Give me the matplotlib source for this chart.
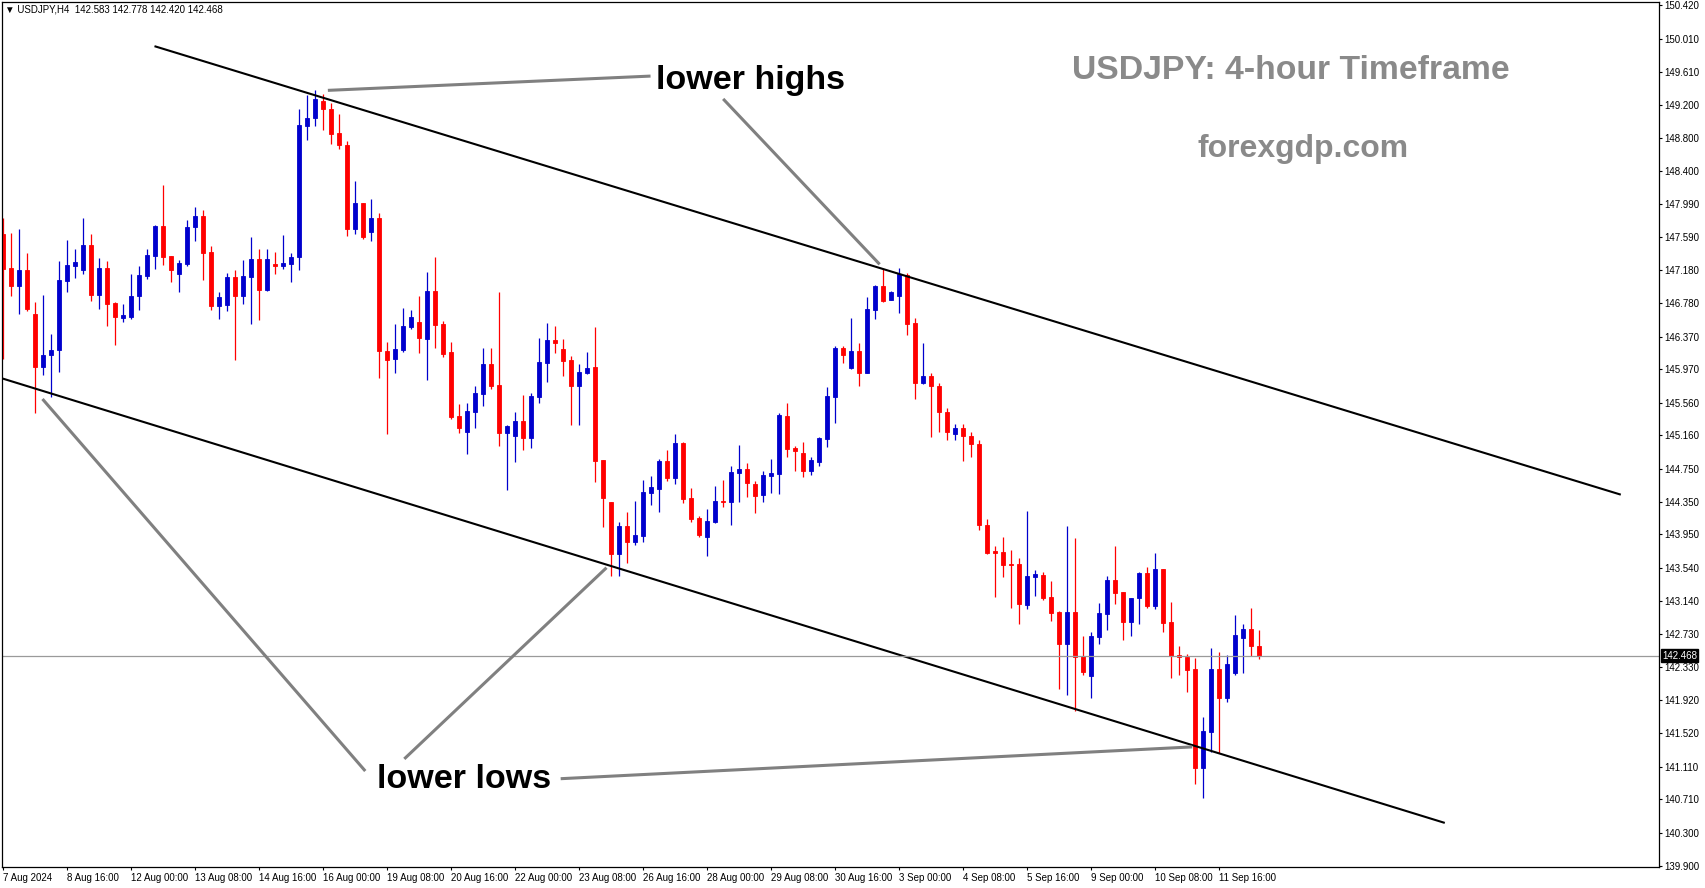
import matplotlib
matplotlib.use("Agg")
import matplotlib.pyplot as plt

# USDJPY H4 candles, 7 Aug 2024 08:00 .. 12 Sep 2024 12:00
opens = [147.62, 147.21, 146.99, 147.18, 146.65, 146.00, 146.14, 146.20, 147.05, 147.23,
         147.18, 147.49, 146.88, 147.21, 146.78, 146.60, 146.61, 146.86, 147.11, 147.36,
         147.72, 147.36, 147.14, 147.26, 147.71, 147.84, 147.40, 146.74, 146.75, 147.10,
         146.86, 147.10, 147.32, 146.94, 147.26, 147.23, 147.26, 147.34, 148.95, 149.04,
         149.25, 149.15, 148.86, 148.71, 147.68, 148.00, 147.65, 147.82, 146.19, 146.09,
         146.21, 146.49, 146.55, 146.34, 146.93, 146.52, 146.18, 145.40, 145.20, 145.45,
         145.67, 146.04, 145.78, 145.19, 145.15, 145.34, 145.13, 145.63, 146.05, 146.33,
         146.22, 146.08, 145.77, 145.93, 146.00, 144.86, 144.35, 143.71, 144.05, 143.86,
         143.93, 144.46, 144.51, 144.85, 144.64, 145.07, 144.40, 144.15, 143.92, 144.10,
         144.36, 144.35, 144.70, 144.75, 144.57, 144.43, 144.67, 144.69, 145.40, 145.01,
         144.95, 144.73, 144.84, 145.12, 145.63, 146.23, 145.99, 146.19, 145.92, 146.70,
         146.99, 146.82, 146.87, 147.12, 146.54, 145.80, 145.89, 145.77, 145.45, 145.18,
         145.25, 145.15, 145.05, 144.06, 143.75, 143.73, 143.59, 143.59, 143.09, 143.43,
         143.45, 143.18, 143.00, 142.61, 143.00, 142.46, 142.22, 142.69, 142.98, 143.39,
         143.25, 142.88, 143.17, 143.48, 143.07, 143.53, 142.88, 142.48, 142.45, 142.30,
         141.09, 141.53, 142.30, 141.95, 142.26, 142.68, 142.79, 142.583]
highs = [147.82, 147.64, 147.69, 147.39, 146.79, 146.88, 146.40, 147.29, 147.55, 147.44,
         147.82, 147.62, 147.33, 147.29, 146.79, 146.77, 147.14, 147.23, 147.44, 147.73,
         148.22, 147.36, 147.31, 147.80, 147.95, 147.92, 147.48, 146.92, 147.15, 147.18,
         147.31, 147.59, 147.44, 147.44, 147.40, 147.61, 147.39, 149.15, 149.33, 149.39,
         149.34, 149.23, 149.09, 148.76, 148.27, 148.00, 148.05, 147.88, 146.30, 146.52,
         146.72, 146.70, 146.87, 147.16, 147.34, 146.56, 146.30, 145.55, 145.56, 145.77,
         146.23, 146.23, 146.92, 145.29, 145.45, 145.65, 145.68, 146.35, 146.54, 146.50,
         146.34, 146.13, 146.03, 146.18, 146.49, 144.86, 144.35, 144.10, 144.22, 144.36,
         144.62, 144.66, 144.87, 144.98, 145.18, 145.08, 144.52, 144.17, 144.26, 144.54,
         144.62, 144.79, 145.04, 144.82, 144.60, 144.73, 144.87, 145.44, 145.56, 145.03,
         145.08, 144.90, 145.14, 145.75, 146.25, 146.25, 146.60, 146.29, 146.85, 147.00,
         147.20, 146.93, 147.21, 147.15, 146.60, 146.29, 145.93, 145.80, 145.50, 145.30,
         145.30, 145.20, 145.10, 144.14, 143.81, 143.92, 143.76, 143.66, 144.24, 143.52,
         143.49, 143.38, 143.01, 144.05, 143.91, 142.71, 142.76, 143.11, 143.44, 143.81,
         143.25, 143.17, 143.49, 143.55, 143.72, 143.53, 143.12, 142.59, 142.49, 142.44,
         141.72, 142.56, 142.51, 142.47, 142.96, 142.85, 143.05, 142.778]
lows = [146.09, 146.86, 146.65, 146.68, 145.43, 145.90, 145.63, 145.94, 146.91, 147.09,
        147.14, 146.81, 146.71, 146.50, 146.27, 146.55, 146.59, 146.70, 147.07, 147.20,
        147.25, 147.04, 146.91, 147.23, 147.54, 147.06, 146.70, 146.59, 146.68, 146.08,
        146.77, 146.52, 146.57, 146.93, 147.14, 147.20, 147.04, 147.18, 148.78, 148.95,
        148.90, 148.73, 148.66, 147.60, 147.62, 147.56, 147.54, 145.86, 145.18, 145.93,
        146.18, 146.46, 146.17, 145.84, 146.23, 146.12, 145.36, 145.19, 144.93, 145.25,
        145.52, 145.73, 145.03, 144.49, 144.84, 144.98, 145.01, 145.56, 145.81, 146.17,
        145.89, 145.29, 145.29, 145.91, 144.59, 144.04, 143.44, 143.44, 143.60, 143.82,
        143.86, 144.31, 144.22, 144.60, 144.57, 144.33, 144.10, 143.92, 143.69, 144.09,
        144.29, 144.07, 144.35, 144.41, 144.21, 144.35, 144.46, 144.44, 144.90, 144.73,
        144.65, 144.68, 144.79, 145.02, 145.31, 146.05, 145.97, 145.77, 145.92, 146.59,
        146.79, 146.82, 146.66, 146.39, 145.61, 145.79, 145.14, 145.20, 145.10, 145.10,
        144.85, 144.90, 144.01, 143.71, 143.19, 143.43, 143.05, 142.85, 143.04, 143.20,
        143.15, 142.89, 142.06, 141.99, 141.79, 142.23, 141.95, 142.61, 142.78, 143.10,
        142.66, 142.71, 142.85, 143.05, 143.04, 142.76, 142.19, 142.23, 142.02, 140.90,
        140.72, 141.29, 141.28, 141.90, 142.23, 142.26, 142.46, 142.420]
closes = [147.20, 146.99, 147.18, 146.71, 146.00, 146.15, 146.21, 147.06, 147.25, 147.28,
          147.49, 146.88, 147.21, 146.77, 146.61, 146.63, 146.87, 147.12, 147.37, 147.72,
          147.34, 147.18, 147.27, 147.71, 147.84, 147.39, 146.74, 146.85, 147.10, 146.86,
          147.11, 147.32, 146.94, 147.32, 147.23, 147.27, 147.34, 148.96, 149.04, 149.28,
          149.15, 148.85, 148.71, 147.68, 148.00, 147.59, 147.82, 146.19, 146.08, 146.22,
          146.50, 146.61, 146.35, 146.93, 146.51, 146.16, 145.39, 145.25, 145.46, 145.68,
          146.04, 145.77, 145.19, 145.28, 145.34, 145.13, 145.64, 146.06, 146.33, 146.29,
          146.07, 145.77, 145.94, 145.99, 144.85, 144.40, 143.71, 144.05, 143.86, 143.94,
          144.47, 144.53, 144.85, 144.64, 145.07, 144.38, 144.14, 143.94, 144.11, 144.36,
          144.35, 144.71, 144.75, 144.58, 144.42, 144.68, 144.70, 145.41, 144.99, 144.97,
          144.73, 144.86, 145.13, 145.64, 146.23, 146.14, 146.19, 145.92, 146.71, 146.99,
          146.81, 146.92, 147.14, 146.52, 145.80, 145.89, 145.77, 145.45, 145.20, 145.25,
          145.15, 145.05, 144.06, 143.72, 143.72, 143.58, 143.58, 143.10, 143.44, 143.47,
          143.17, 142.99, 142.61, 143.00, 142.45, 142.27, 142.71, 142.99, 143.39, 143.23,
          142.88, 143.17, 143.48, 143.07, 143.53, 142.87, 142.46, 142.45, 142.29, 141.09,
          141.55, 142.30, 141.95, 142.36, 142.72, 142.79, 142.59, 142.468]

bid = 142.468
price_ticks = [150.420, 150.010, 149.610, 149.200, 148.800, 148.400, 147.990, 147.590,
               147.180, 146.780, 146.370, 145.970, 145.560, 145.160, 144.750, 144.350,
               143.950, 143.540, 143.140, 142.730, 142.330, 141.920, 141.520, 141.110,
               140.710, 140.300, 139.900]
time_labels = ["7 Aug 2024", "8 Aug 16:00", "12 Aug 00:00", "13 Aug 08:00", "14 Aug 16:00",
               "16 Aug 00:00", "19 Aug 08:00", "20 Aug 16:00", "22 Aug 00:00", "23 Aug 08:00",
               "26 Aug 16:00", "28 Aug 00:00", "29 Aug 08:00", "30 Aug 16:00", "3 Sep 00:00",
               "4 Sep 08:00", "5 Sep 16:00", "9 Sep 00:00", "10 Sep 08:00", "11 Sep 16:00"]

BULL = "#0000CD"
BEAR = "#FF0000"

W, H = 1705, 888
fig = plt.figure(figsize=(W / 100, H / 100), dpi=100)
ax = fig.add_axes([2 / W, 1 - 867 / H, 1657 / W, 865 / H])

# candles
n = len(opens)
xs = list(range(n))
for i in xs:
    o, h, l, c = opens[i], highs[i], lows[i], closes[i]
    col = BULL if c >= o else BEAR
    ax.vlines(i, l, h, color=col, lw=0.9)
    ax.bar(i, abs(c - o), bottom=min(o, c), width=0.62, color=col,
           edgecolor=col, linewidth=0.6)

# channel lines
ax.plot([19.06, 202.1], [149.918, 144.44], color="black", lw=1.5)
ax.plot([-0.4, 180.1], [145.867, 140.425], color="black", lw=1.5)

# bid line
ax.axhline(bid, color="#9a9a9a", lw=0.9)

# annotation pointers
gray = "#808080"
ax.plot([40.8, 80.75], [149.382, 149.555], color=gray, lw=2.2)
ax.plot([90.15, 109.45], [149.263, 147.267], color=gray, lw=2.2)
ax.plot([5.06, 45.16], [145.592, 141.07], color=gray, lw=2.2)
ax.plot([50.3, 75.3], [141.217, 143.53], color=gray, lw=2.2)
ax.plot([69.9, 148.46], [140.963, 141.35], color=gray, lw=2.2)

ax.text(93.5, 149.50, "lower highs", fontsize=24.5, fontweight="semibold",
        family="Liberation Sans", ha="center", va="center")
ax.text(57.6, 140.95, "lower lows", fontsize=24.5, fontweight="semibold",
        family="Liberation Sans", ha="center", va="center")
ax.text(161.0, 149.63, "USDJPY: 4-hour Timeframe", fontsize=24.3, fontweight="bold",
        family="Liberation Sans", color="#8a8a8a", ha="center", va="center")
ax.text(162.5, 148.67, "forexgdp.com", fontsize=23, fontweight="bold",
        family="Liberation Sans", color="#8a8a8a", ha="center", va="center")

# axes setup
ax.set_xlim(-0.125, 207.0)
ax.set_ylim(139.882, 150.462)
ax.yaxis.tick_right()
ax.set_yticks(price_ticks)
ax.set_yticklabels([f"{p:.3f}" for p in price_ticks])
ax.set_xticks(list(range(0, 8 * len(time_labels), 8)))
ax.set_xticklabels(time_labels, ha="left")
ax.tick_params(axis="both", direction="out", length=2.5, width=0.8,
               labelsize=7, pad=1.5)
for lab in ax.get_xticklabels() + ax.get_yticklabels():
    lab.set_family("Liberation Sans")
for s in ax.spines.values():
    s.set_linewidth(0.9)

# current price label on the scale
ax.text(1.002, bid, f"{bid:.3f}", transform=ax.get_yaxis_transform(),
        fontsize=7, family="Liberation Sans", color="white", ha="left", va="center",
        bbox=dict(boxstyle="square,pad=0.12", fc="black", ec="black"))

fig.text(5 / W, 1 - 10 / H, "\u25bc USDJPY,H4  142.583 142.778 142.420 142.468",
         fontsize=7, family=["Liberation Sans", "DejaVu Sans"], va="center")

fig.savefig("out.png", dpi=100)
